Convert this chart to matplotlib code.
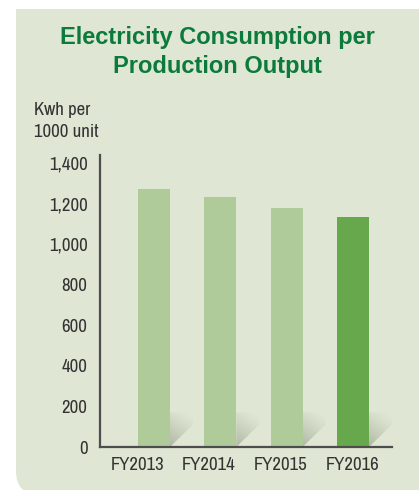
import numpy as np
import matplotlib
matplotlib.use("Agg")
from matplotlib import pyplot as plt
from matplotlib.patches import Polygon, PathPatch
from matplotlib.path import Path

# data
years = ["FY2013", "FY2014", "FY2015", "FY2016"]
kwh = [1272, 1232, 1178, 1134]
yticks = [0, 200, 400, 600, 800, 1000, 1200, 1400]

bg = "#dfe6d3"
light = "#afcb9a"
dark = "#67a84c"
green_title = "#0b7a3b"
txt = "#333333"
narrow = ["Archivo Narrow", "DejaVu Sans"]

W, H = 419, 490
fig = plt.figure(figsize=(W / 100, H / 100), dpi=100)
fig.patch.set_facecolor("white")

# panel: square top-left corner, rounded bottom-left corner
r = 24
pts = [(16, 9), (W + 5, 9), (W + 5, H + 5), (16 + r, H + 5), (16, H + 5), (16, H + 5 - r), (16, 9)]
codes = [Path.MOVETO, Path.LINETO, Path.LINETO, Path.LINETO, Path.CURVE3, Path.CURVE3, Path.CLOSEPOLY]
pts = [(px / W, 1 - py / H) for px, py in pts]
panel = PathPatch(Path(pts, codes), transform=fig.transFigure,
                  facecolor=bg, edgecolor="none", zorder=0)
fig.patches.append(panel)

ax = fig.add_axes([100 / W, (H - 447) / H, 292 / W, 292 / H])
ax.set_zorder(2)
ax.set_facecolor("none")
x = np.arange(len(years))
bw = 0.482
cols = [light, light, light, dark]
ax.bar(x, kwh, width=bw, color=cols, zorder=3)

# soft diagonal shadow at the foot of each bar
sx, sy = 0.35, 112
for xi in x:
    xr = xi + bw / 2
    poly = Polygon([(xr, 0), (xr + sx, sy), (xr + sx, sy + 60), (xr, 170)],
                   closed=True, facecolor="none", edgecolor="none")
    ax.add_patch(poly)
    gx, gy = np.meshgrid(np.linspace(0, 1, 60), np.linspace(0, 1, 80))
    a = np.clip(1 - (gy * 1.0 + gx * 0.35), 0, 1) ** 1.3
    img = np.zeros((80, 60, 4))
    img[..., :3] = np.array([0.62, 0.66, 0.58])
    img[..., 3] = a * 0.75
    im = ax.imshow(img, extent=[xr, xr + sx, 0, 230], origin="lower",
                   aspect="auto", zorder=2, interpolation="bilinear")
    im.set_clip_path(poly)

ax.set_xlim(-0.814, 3.588)
ax.set_ylim(0, 1440)
# category labels in the original sit on a slightly wider pitch than the bars
ax.set_xticks(x * 1.08 - 0.25)
ax.set_xticklabels(years)
ax.set_yticks(yticks)
ax.set_yticklabels([f"{v:,}" for v in yticks])
ax.tick_params(length=0, labelsize=13.5, labelcolor=txt)
ax.tick_params(axis="y", pad=9)
ax.tick_params(axis="x", pad=7)
for lab in ax.get_xticklabels() + ax.get_yticklabels():
    lab.set_family(narrow)
for s in ["top", "right"]:
    ax.spines[s].set_visible(False)
for s in ["left", "bottom"]:
    ax.spines[s].set_color("#4d4d4d")
    ax.spines[s].set_linewidth(1.6)
    ax.spines[s].set_zorder(4)

fig.text(217 / W, 1 - 52 / H, "Electricity Consumption per\nProduction Output",
         ha="center", va="center", fontsize=17, fontweight="bold",
         color=green_title, family=["Liberation Sans", "DejaVu Sans"],
         linespacing=1.3)
fig.text(34 / W, 1 - 110 / H, "Kwh per", ha="left", va="center",
         fontsize=13.5, color=txt, family=narrow)
fig.text(34 / W, 1 - 132 / H, "1000 unit", ha="left", va="center",
         fontsize=13.5, color=txt, family=narrow)

fig.savefig("out.png", dpi=100, facecolor="white")
